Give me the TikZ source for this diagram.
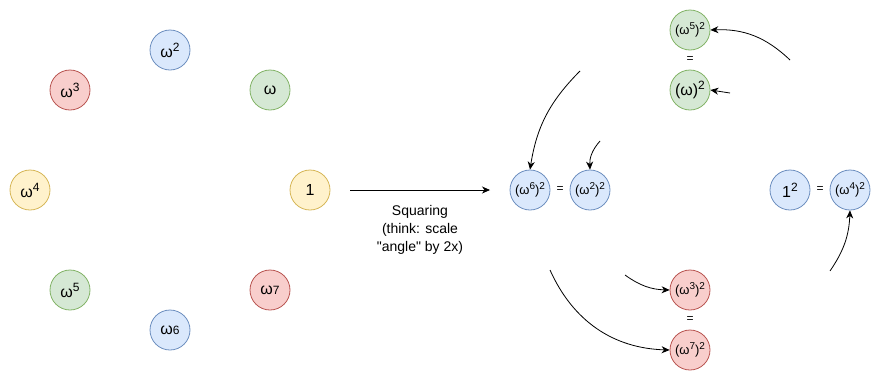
\documentclass[tikz,border=0pt]{standalone}
\usepackage{fontspec}
\setmainfont{Liberation Sans}
\newfontfamily\plainsans{Liberation Sans}
\usetikzlibrary{arrows.meta}
\definecolor{bfill}{HTML}{DAE8FC}\definecolor{bdraw}{HTML}{6C8EBF}
\definecolor{gfill}{HTML}{D5E8D4}\definecolor{gdraw}{HTML}{82B366}
\definecolor{rfill}{HTML}{F8CECC}\definecolor{rdraw}{HTML}{B85450}
\definecolor{yfill}{HTML}{FFF2CC}\definecolor{ydraw}{HTML}{D6B656}
\newcommand\supL[1]{\raisebox{6pt}{\fontsize{12}{12}\selectfont #1}}
\newcommand\supS[1]{\raisebox{5pt}{\fontsize{10}{10}\selectfont #1}}
\newcommand\lowL[1]{{\fontsize{12}{12}\selectfont #1}}
\begin{document}
\begin{tikzpicture}[x=1pt,y=-1pt,
  rt/.style={circle,minimum size=40pt,inner sep=0pt,line width=0.8pt},
  big/.style={font=\fontsize{16}{18}\selectfont},
  small/.style={font=\fontsize{13}{15}\selectfont},
  cb/.style={rt,fill=bfill,draw=bdraw},
  cg/.style={rt,fill=gfill,draw=gdraw},
  cr/.style={rt,fill=rfill,draw=rdraw},
  cy/.style={rt,fill=yfill,draw=ydraw},
  eq/.style={font=\fontsize{12}{14}\selectfont,inner sep=0pt},
  arr/.style={line width=0.8pt,-{Stealth[length=8pt,width=7pt,inset=2.5pt]}}]
\useasboundingbox (0,0) rectangle (881,381);
% left circle of roots
\node[cb,big] (w2) at (170,50) {ω\supL{2}};
\node[cr,big] (w3) at (70,90) {ω\supL{3}};
\node[cg,big] (w1) at (270,90) {ω};
\node[cy,big] (w4) at (30,190) {ω\supL{4}};
\node[cy,big] (one) at (310,190) {1};
\node[cg,big] (w5) at (70,290) {ω\supL{5}};
\node[cr,big] (w7) at (270,290) {ω\lowL{7}};
\node[cb,big] (w6) at (170,330) {ω\lowL{6}};
% squaring arrow
\coordinate (sqa) at (350,190);
\coordinate (sqb) at (490,190);
\draw[arr] (sqa) -- (sqb);
\node[align=center,font=\plainsans\fontsize{14}{18}\selectfont] (sqt) at (420,230) {Squaring\\(think: scale\\"angle" by 2x)};
% right side
\node[cg,small] (s5) at (690,30) {(ω\supS{5})\supS{2}};
\node[eq] (e1) at (690,60) {=};
\node[cg,big] (s1) at (690,90) {(ω)\supL{2}};
\node[cb,small] (s6) at (530,190) {(ω\supS{6})\supS{2}};
\node[eq] (e2) at (560,190) {=};
\node[cb,small] (s2) at (590,190) {(ω\supS{2})\supS{2}};
\node[cb,big] (s0) at (790,190) {1\supL{2}};
\node[eq] (e3) at (820,190) {=};
\node[cb,small] (s4) at (850,190) {(ω\supS{4})\supS{2}};
\node[cr,small] (s3) at (690,290) {(ω\supS{3})\supS{2}};
\node[eq] (e4) at (690,320) {=};
\node[cr,small] (s7) at (690,350) {(ω\supS{7})\supS{2}};
% free ends
\coordinate (f6) at (580,71);
\coordinate (f2) at (600,141);
\coordinate (f5) at (790,60);
\coordinate (f1) at (730,93);
\coordinate (f4) at (830,271);
\coordinate (f7) at (550,270);
\coordinate (f3) at (625,275);
\draw[arr] (f6) to[bend right=18] (s6.north);
\draw[arr] (f2) to[bend right=22] (s2.north);
\draw[arr] (f5) to[bend right=23] (s5.east);
\draw[arr] (f1) -- (s1.east);
\draw[arr] (f4) to[bend right=16] (s4.south);
\draw[arr] (f7) to[bend right=32] (s7.west);
\draw[arr] (f3) to[bend right=17] (s3.west);
\end{tikzpicture}
\end{document}
